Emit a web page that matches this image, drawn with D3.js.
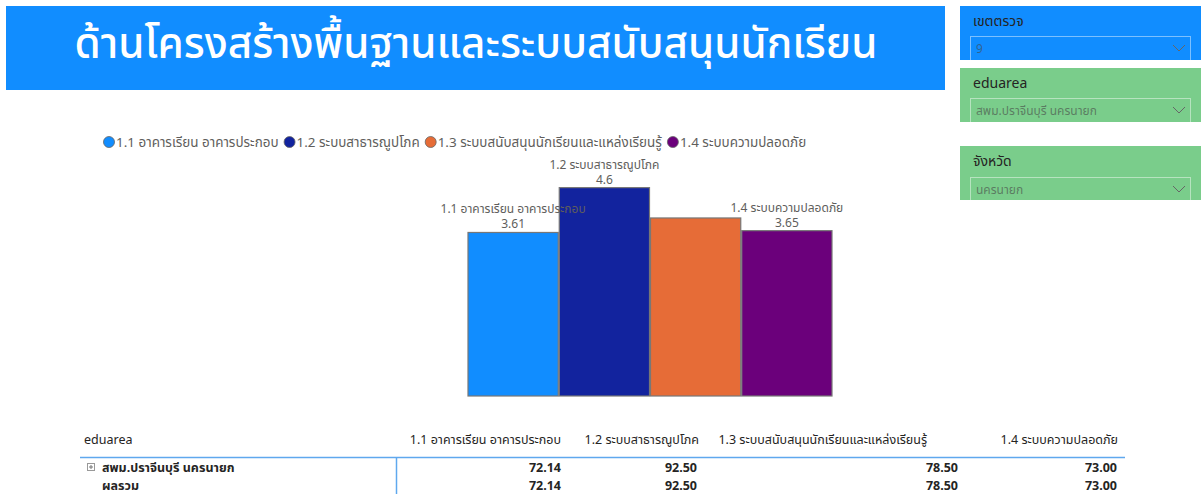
<!DOCTYPE html>
<html><head><meta charset="utf-8">
<script src="https://cdn.jsdelivr.net/npm/d3@7"></script>
<style>
body{margin:0;background:#fff;}
svg{display:block;font-family:"Segoe UI","Noto Sans","Noto Sans Thai","DejaVu Sans",sans-serif;}
</style></head>
<body><svg id="c" width="1202" height="494"></svg>
<script>
const title = "ด้านโครงสร้างพื้นฐานและระบบสนับสนุนนักเรียน";
const categories = ["1.1 อาคารเรียน อาคารประกอบ","1.2 ระบบสาธารณูปโภค","1.3 ระบบสนับสนุนนักเรียนและแหล่งเรียนรู้","1.4 ระบบความปลอดภัย"];
const barValues = [3.61, 4.6, 3.93, 3.65];
const barLabelsShown = [true, true, false, true];
const colors = ["#118DFF","#12239E","#E66C37","#6B007B"];
const tableRows = ["สพม.ปราจีนบุรี นครนายก","ผลรวม"];
const tableValues = [[72.14, 92.50, 78.50, 73.00],[72.14, 92.50, 78.50, 73.00]];
const slicers = [{label:"เขตตรวจ", value:"9", color:"#118DFF"},{label:"eduarea", value:"สพม.ปราจีนบุรี นครนายก", color:"#7ACD8B"},{label:"จังหวัด", value:"นครนายก", color:"#7ACD8B"}];

const svg = d3.select("#c");

// Title banner
svg.append("rect").attr("x",6).attr("y",6).attr("width",939).attr("height",84).attr("fill","#118DFF");
const t = svg.append("text").attr("x",476).attr("y",58).attr("text-anchor","middle").attr("fill","#fff")
  .attr("font-size",38).attr("font-weight",500).text(title);
const tw = t.node().getComputedTextLength();
if (tw>0) t.attr("font-size", 38*803/tw);

// Slicers
const slicerY = [6, 68, 146];
slicers.forEach((s,i)=>{
  const y0 = slicerY[i];
  const g = svg.append("g");
  g.append("rect").attr("x",960).attr("y",y0).attr("width",241).attr("height",54).attr("fill",s.color);
  g.append("text").attr("x",973).attr("y",y0+20).attr("font-size",14).attr("fill","#252423").text(s.label);
  const by = i==2 ? y0+31 : y0+30;
  g.append("rect").attr("x",970.5).attr("y",by+0.5).attr("width",220).attr("height",24).attr("fill","none")
    .attr("stroke","rgba(255,255,255,0.45)").attr("stroke-width",1);
  g.append("text").attr("x",976).attr("y",by+17).attr("font-size",12).attr("fill","rgba(70,70,70,0.6)").text(s.value);
  g.append("path").attr("d",`M1173,${by+9} L1179,${by+15} L1185,${by+9}`).attr("fill","none").attr("stroke","#666").attr("stroke-width",1);
});

// Legend (laid out sequentially, fitted to the reference width)
const legendG = svg.append("g");
let lfs = 12.5;
const items = categories.map((c,i)=>{
  const g = legendG.append("g");
  g.append("circle").attr("cx",6).attr("cy",142).attr("r",5.5).attr("fill",colors[i]).attr("stroke","#666").attr("stroke-width",0.8);
  const tx = g.append("text").attr("x",13).attr("y",147).attr("font-size",lfs).attr("fill","#605E5C").text(c);
  return {g, tx};
});
function layoutLegend(){
  let cx = 103;
  items.forEach(it=>{
    it.g.attr("transform",`translate(${cx-103+103},0)`);
    it.g.attr("transform",`translate(${cx},0)`);
    cx += 13 + it.tx.node().getComputedTextLength() + 5;
  });
  return cx - 5 - 103;
}
let total = layoutLegend();
if (total > 0 && Math.abs(total-705) > 2){
  lfs = lfs * (705 - 4*13) / (total - 4*13);
  items.forEach(it=>it.tx.attr("font-size",lfs));
  layoutLegend();
}

// Bars
const x = d3.scaleBand().domain(categories).range([468, 832]).paddingInner(0.011);
const y = d3.scaleLinear().domain([0,5]).range([396, 169.5]);
svg.selectAll("rect.bar").data(categories).join("rect").attr("class","bar")
  .attr("x",d=>x(d)).attr("width",x.bandwidth())
  .attr("y",(d,i)=>y(barValues[i])).attr("height",(d,i)=>y(0)-y(barValues[i]))
  .attr("fill",(d,i)=>colors[i]).attr("stroke","#777").attr("stroke-width",1.2);

categories.forEach((c,i)=>{
  if(!barLabelsShown[i]) return;
  const cx = x(c)+x.bandwidth()/2, ty = y(barValues[i]);
  svg.append("text").attr("x",cx).attr("y",ty-19).attr("text-anchor","middle").attr("font-size",12).attr("fill","#605E5C").text(c);
  svg.append("text").attr("x",cx).attr("y",ty-4).attr("text-anchor","middle").attr("font-size",12).attr("fill","#605E5C").text(String(barValues[i]));
});

// Table
const headerRight = [561, 699, 927, 1118];
const valueRight = [561, 697, 958, 1117];
svg.append("text").attr("x",84).attr("y",444).attr("font-size",12.5).attr("fill","#252423").text("eduarea");
categories.forEach((c,i)=>{
  svg.append("text").attr("x",headerRight[i]).attr("y",444).attr("text-anchor","end").attr("font-size",12.5).attr("fill","#252423").text(c);
});
svg.append("line").attr("x1",80).attr("x2",1125).attr("y1",457.5).attr("y2",457.5).attr("stroke","#5FA8EE").attr("stroke-width",1.5);
svg.append("line").attr("x1",396.5).attr("x2",396.5).attr("y1",458).attr("y2",494).attr("stroke","#5FA8EE").attr("stroke-width",1.5);
svg.append("rect").attr("x",87.5).attr("y",463.5).attr("width",7).attr("height",7).attr("fill","none").attr("stroke","#999");
svg.append("path").attr("d","M89,467 H93 M91,465 V469").attr("stroke","#777").attr("stroke-width",1);
const rowY = [472, 490];
tableRows.forEach((r,ri)=>{
  svg.append("text").attr("x",102).attr("y",rowY[ri]).attr("font-size",12.5).attr("font-weight","bold").attr("fill","#252423").text(r);
  tableValues[ri].forEach((v,ci)=>{
    svg.append("text").attr("x",valueRight[ci]).attr("y",rowY[ri]).attr("text-anchor","end").attr("font-size",12.5).attr("font-weight","bold").attr("fill","#252423").text(v.toFixed(2));
  });
});
</script></body></html>
